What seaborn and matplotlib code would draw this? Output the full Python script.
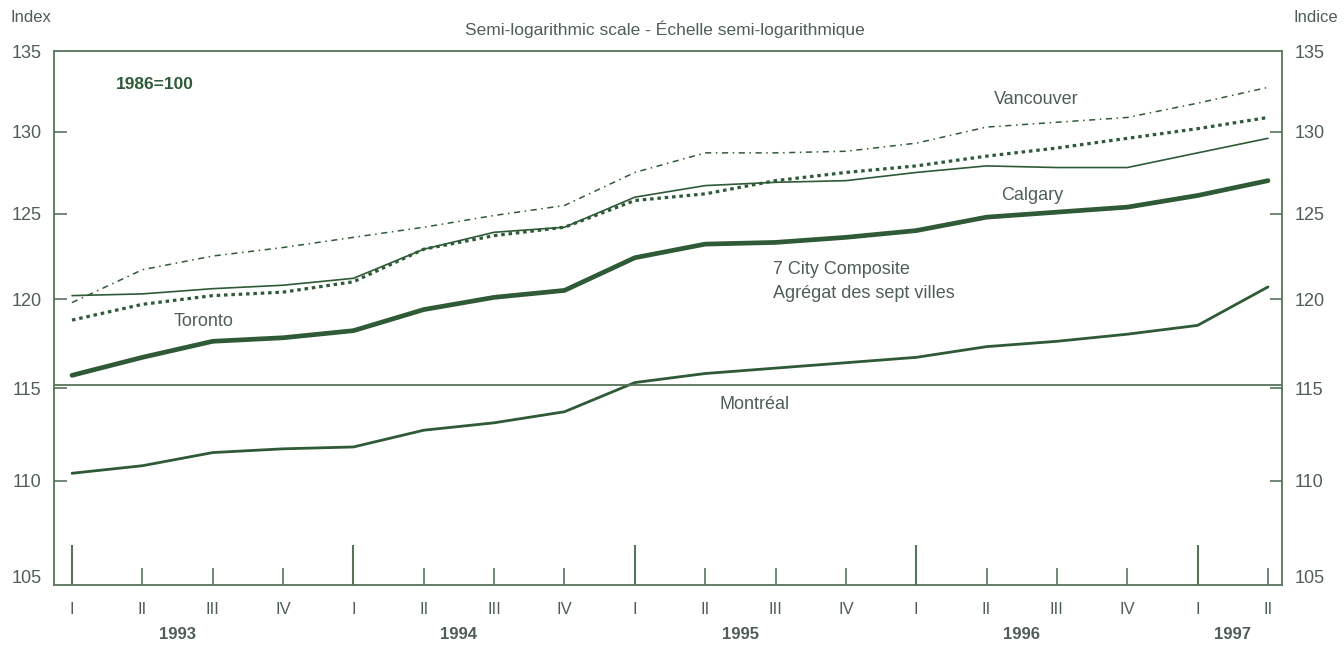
import numpy as np
import pandas as pd
import matplotlib
matplotlib.use("Agg")
import matplotlib.pyplot as plt
from matplotlib.ticker import FixedLocator, FixedFormatter, NullLocator
from matplotlib.transforms import blended_transform_factory, offset_copy
import seaborn as sns

sns.set_style("ticks")
plt.rcParams['font.family'] = ['Liberation Sans', 'DejaVu Sans']

# Quarterly data, 1993 Q1 - 1997 Q2 (index 1986=100)
quarters = ["I", "II", "III", "IV"] * 4 + ["I", "II"]
years = ["1993", "1994", "1995", "1996", "1997"]
composite = [115.7, 116.7, 117.6, 117.8, 118.2, 119.4, 120.1, 120.5, 122.4,
             123.2, 123.3, 123.6, 124.0, 124.8, 125.1, 125.4, 126.1, 127.0]
montreal = [110.4, 110.8, 111.5, 111.7, 111.8, 112.7, 113.1, 113.7, 115.3,
            115.8, 116.1, 116.4, 116.7, 117.3, 117.6, 118.0, 118.5, 120.7]
toronto = [118.8, 119.7, 120.2, 120.4, 121.0, 122.9, 123.7, 124.2, 125.8,
           126.2, 127.0, 127.5, 127.9, 128.5, 129.0, 129.6, 130.2, 130.9]
calgary = [120.2, 120.3, 120.6, 120.8, 121.2, 122.9, 123.9, 124.2, 126.0,
           126.7, 126.9, 127.0, 127.5, 127.9, 127.8, 127.8, 128.7, 129.6]
vancouver = [119.8, 121.7, 122.5, 123.0, 123.6, 124.2, 124.9, 125.5, 127.5,
             128.7, 128.7, 128.8, 129.3, 130.3, 130.6, 130.9, 131.8, 132.8]
y_ticks = [110, 115, 120, 125, 130]
y_ends = [105, 135]
divider = 115.16

line_col = "#2f5a37"
axis_col = "#56735b"
text_col = "#4f5e56"

q = np.arange(len(quarters))
df = pd.DataFrame({"q": q, "Composite": composite, "Montréal": montreal,
                   "Toronto": toronto, "Calgary": calgary, "Vancouver": vancouver})

fig = plt.figure(figsize=(13.44, 6.46), dpi=100)
ax = fig.add_axes([0.0402, 0.0944, 0.9137, 0.8266])

sns.lineplot(data=df, x="q", y="Vancouver", ax=ax, color=line_col, lw=1.1,
             linestyle=(0, (4, 3, 1, 3)))
sns.lineplot(data=df, x="q", y="Toronto", ax=ax, color=line_col, lw=2.3,
             linestyle=(0, (1.1, 1.2)))
sns.lineplot(data=df, x="q", y="Calgary", ax=ax, color=line_col, lw=1.2)
sns.lineplot(data=df, x="q", y="Montréal", ax=ax, color=line_col, lw=2.0)
sns.lineplot(data=df, x="q", y="Composite", ax=ax, color=line_col, lw=3.4,
             solid_capstyle="round")
ax.axhline(divider, color=axis_col, lw=1.3)

ax.set_yscale("log")
ax.set_ylim(104.65, 135.13)
ax.set_xlim(-0.256, 17.2)
ax.yaxis.set_major_locator(FixedLocator(y_ticks))
ax.yaxis.set_major_formatter(FixedFormatter([str(v) for v in y_ticks]))
ax.yaxis.set_minor_locator(NullLocator())
ax.tick_params(axis="y", which="major", left=True, right=True, labelleft=True,
               labelright=True, direction="in", length=9, width=1.2,
               color=axis_col, labelcolor=text_col, labelsize=13, pad=9)

# end values sit on the frame: labels only, no tick marks
ytrans = blended_transform_factory(ax.transAxes, ax.transData)
for v in y_ends:
    ax.text(0, v, str(v), transform=offset_copy(ytrans, fig=fig, x=-9, units="points"),
            ha="right", va="center", fontsize=13, color=text_col)
    ax.text(1, v, str(v), transform=offset_copy(ytrans, fig=fig, x=9, units="points"),
            ha="left", va="center", fontsize=13, color=text_col)

# short ticks at every quarter, long ticks at the start of each year
ax.xaxis.remove_overlapping_locs = False
ax.set_xticks(q)
ax.set_xticklabels(quarters)
ax.set_xticks([0, 4, 8, 12, 16], minor=True)
ax.tick_params(axis="x", which="major", direction="in", length=12, width=1.2,
               color=axis_col, labelcolor=text_col, labelsize=12, pad=12)
ax.tick_params(axis="x", which="minor", direction="in", length=29, width=1.5,
               color=axis_col)
ax.set_xlabel("")
ax.set_ylabel("")

for s in ax.spines.values():
    s.set_visible(True)
    s.set_color(axis_col)
    s.set_linewidth(1.3)

# year labels under the quarters
trans = blended_transform_factory(ax.transData, ax.transAxes)
for xpos, yr in zip([1.5, 5.5, 9.5, 13.5, 16.5], years):
    ax.text(xpos, -0.092, yr, transform=trans, ha="center", va="center",
            fontsize=12, fontweight="bold", color=text_col)

# header texts
fig.text(10 / 1344, 1 - 17 / 646, "Index", ha="left", va="center", fontsize=12, color=text_col)
fig.text(1338 / 1344, 1 - 17 / 646, "Indice", ha="right", va="center", fontsize=12, color=text_col)
fig.text(665 / 1344, 1 - 29 / 646, "Semi-logarithmic scale - Échelle semi-logarithmique",
         ha="center", va="center", fontsize=12.5, color=text_col)

# annotations inside the plot
ax.text(0.62, 133.0, "1986=100", fontsize=12.5, fontweight="bold", color=line_col, va="center")
ax.text(13.1, 132.0, "Vancouver", fontsize=13, color=text_col, va="center")
ax.text(13.2, 126.1, "Calgary", fontsize=13, color=text_col, va="center")
ax.text(9.97, 121.7, "7 City Composite", fontsize=13, color=text_col, va="center")
ax.text(9.97, 120.3, "Agrégat des sept villes", fontsize=13, color=text_col, va="center")
ax.text(1.44, 118.7, "Toronto", fontsize=13, color=text_col, va="center")
ax.text(9.2, 114.1, "Montréal", fontsize=13, color=text_col, va="center")

fig.savefig("out.png", dpi=100, facecolor="white")
